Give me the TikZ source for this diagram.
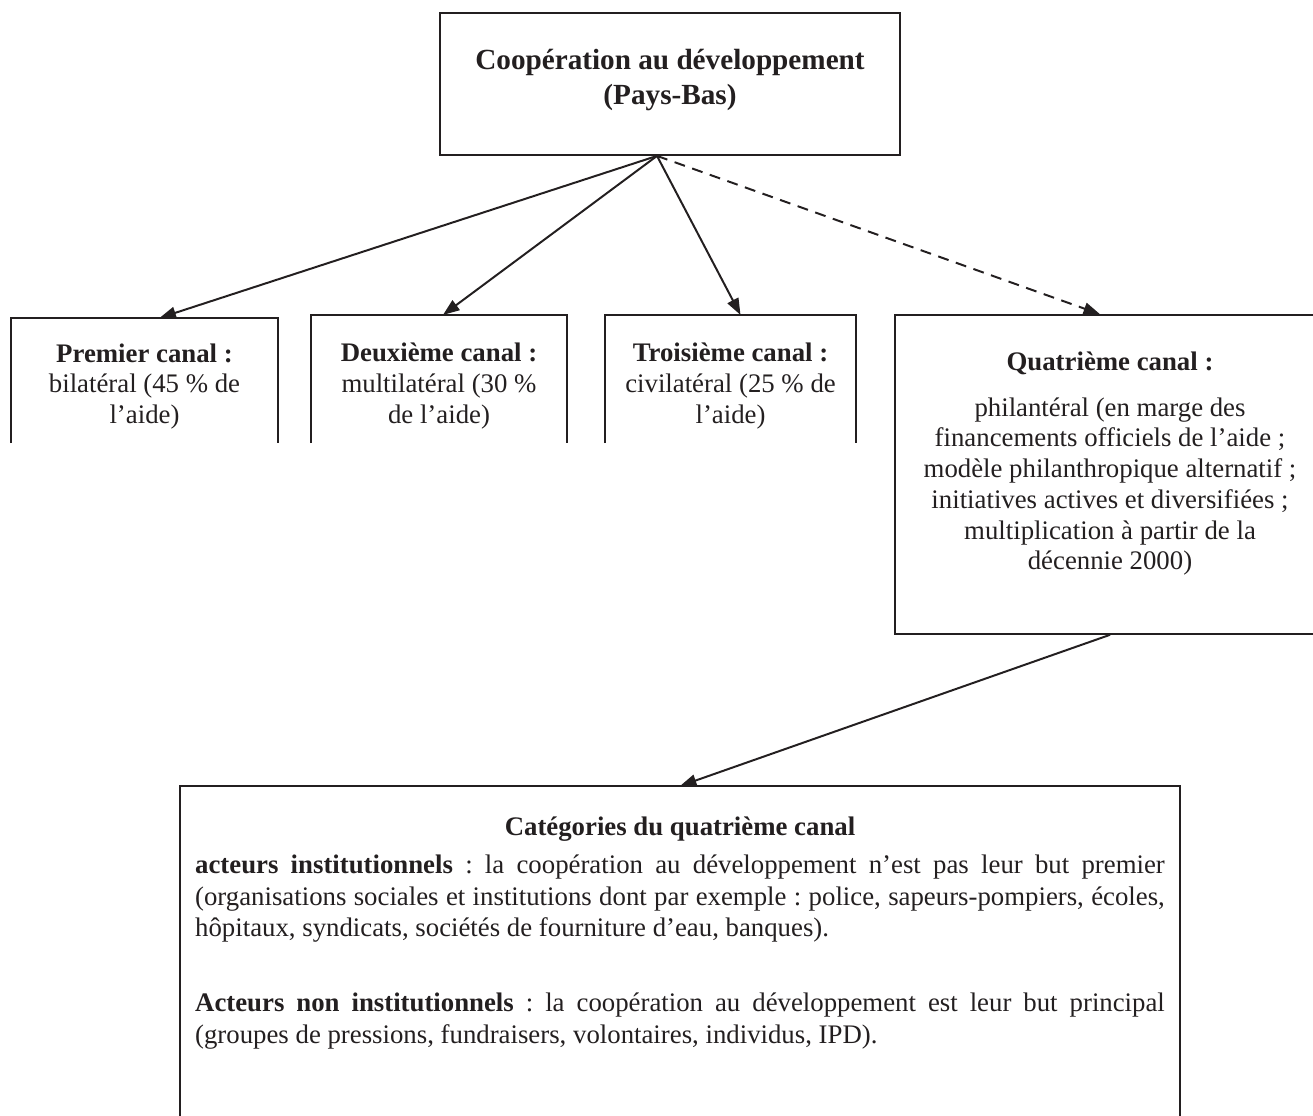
\documentclass[tikz,border=0pt]{standalone}
\usepackage{fontspec}
\setmainfont{Liberation Serif}
\usepackage{xcolor}
\usetikzlibrary{arrows.meta}
\definecolor{ink}{HTML}{231F20}
\tikzset{
  frame/.style={draw=ink, line width=0.9pt, inner sep=0pt},
  hollow/.style={frame, draw=none},
  txt/.style={align=center, text=ink, inner sep=0pt, font=\frenchspacing\fontsize{12.2}{14}\selectfont},
  rim/.style={draw=ink, line width=0.9pt},
  link/.style={draw=ink, line width=0.9pt, -{Triangle[length=7.5pt,width=5.5pt]}},
  dashlink/.style={link, dash pattern=on 5pt off 3.5pt},
}

\begin{document}
\begin{tikzpicture}[x=0.016cm, y=-0.016cm]
\path[use as bounding box, clip] (0,0) rectangle (1313,1115);

% head box
\node[frame, minimum width=7.36cm, minimum height=2.27cm] (coop) at (670,84) {};
\node[txt, font=\fontsize{13.3}{15.3}\selectfont\bfseries] (coopt) at ([shift={(0,-4)}]coop.center)
  {Coopération au développement\\[1pt] (Pays-Bas)};

% the four channels
\node[hollow, minimum width=4.24cm, minimum height=1.97cm] (c1) at (144.5,380.5) {};
\node[hollow, minimum width=4.06cm, minimum height=2.02cm] (c2) at (439,379) {};
\node[hollow, minimum width=3.98cm, minimum height=2.02cm] (c3) at (730.5,379) {};
\node[frame, minimum width=6.88cm, minimum height=5.1cm] (c4) at (1110,474.5) {};

\node[txt] (c1t) at ([shift={(0,6)}]c1.center)
  {\textbf{Premier canal :}\\ bilatéral (45 \% de\\ l’aide)};
\node[txt] (c2t) at ([shift={(0,7)}]c2.center)
  {\textbf{Deuxième canal :}\\ multilatéral (30 \%\\ de l’aide)};
\node[txt] (c3t) at ([shift={(0,7)}]c3.center)
  {\textbf{Troisième canal :}\\ civilatéral (25 \% de\\ l’aide)};
\node[txt] (c4t) at ([shift={(0,-11)}]c4.center)
  {\textbf{Quatrième canal :}\\[7pt]
   philantéral (en marge des\\
   financements officiels de l’aide ;\\
   modèle philanthropique alternatif ;\\
   initiatives actives et diversifiées ;\\
   multiplication à partir de la\\
   décennie 2000)};

\foreach \b in {c1,c2,c3}
  \draw[rim] (\b.south west) -- (\b.north west) -- (\b.north east) -- (\b.south east);

% categories
\node[txt, font=\frenchspacing\fontsize{12.2}{14.3}\selectfont, anchor=north, text width=15.52cm, inner xsep=0.24cm, inner ysep=0.49cm, align=justify] (cat) at (680,786)
  {{\centering\textbf{Catégories du quatrième canal}\par}
   \vspace{3pt}
   \textbf{acteurs institutionnels} : la coopération au développement n’est pas leur but premier\linebreak
   (organisations sociales et institutions dont par exemple : police, sapeurs-pompiers, écoles,\linebreak
   hôpitaux, syndicats, sociétés de fourniture d’eau, banques).\par
   \vspace{20pt}
   \textbf{Acteurs non institutionnels} : la coopération au développement est leur but principal\linebreak
   (groupes de pressions, fundraisers, volontaires, individus, IPD).};
\draw[rim] ([shift={(0,360)}]cat.north west) -- (cat.north west) -- (cat.north east) -- ([shift={(0,360)}]cat.north east);

% arrows
\coordinate (hub) at ([shift={(-13,0)}]coop.south);
\draw[link] (hub) -- ([shift={(15,0)}]c1.north);
\draw[link] (hub) -- ([shift={(4,0)}]c2.north);
\draw[link] (hub) -- ([shift={(10,0)}]c3.north);
\draw[dashlink] (hub) -- ([shift={(-10,0)}]c4.north);
\draw[link] (c4.south) -- (cat.north);
\end{tikzpicture}
\end{document}
